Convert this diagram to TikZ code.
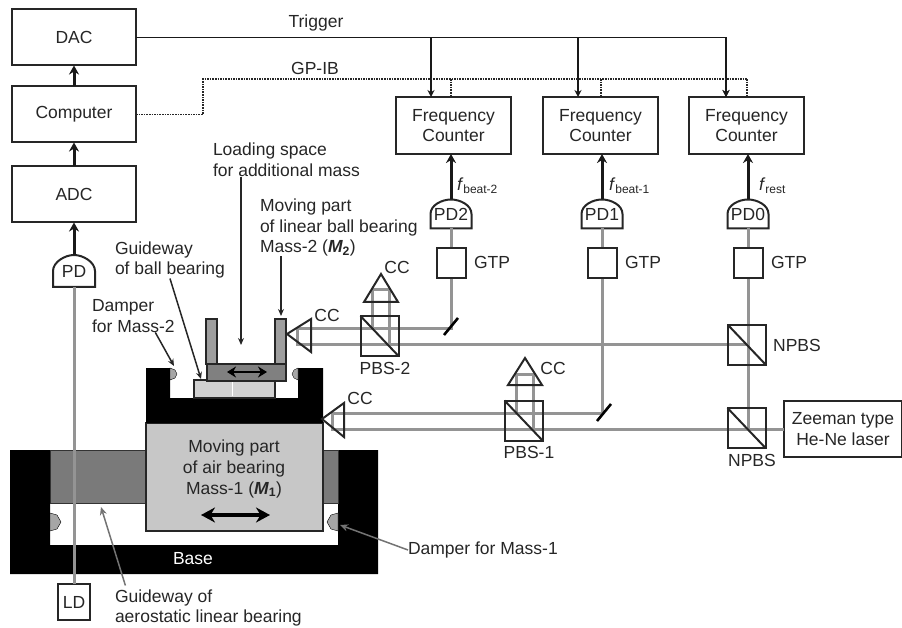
\documentclass[tikz,border=0pt]{standalone}
\usepackage{fontspec}
\setmainfont{Liberation Sans}
\usetikzlibrary{calc,arrows.meta}
\newcommand{\dome}[1]{\draw[box] (#1.south west) -- (#1.west) .. controls +(0,-9) and +(-9,0) .. (#1.north) .. controls +(9,0) and +(0,-9) .. (#1.east) -- (#1.south east) -- cycle;}
\begin{document}
\begin{tikzpicture}[x=1pt, y=-1pt,
	every node/.style={inner sep=0pt, outer sep=0pt, text=black!85, font=\fontsize{17.5}{20.7}\selectfont, align=center},
	box/.style={draw=black!85, line width=2pt},
	unit/.style={box, fill=white, minimum width=124pt, minimum height=56pt},
	counter/.style={box, fill=white, minimum width=115pt, minimum height=57pt},
	filter/.style={box, fill=white, minimum width=29pt, minimum height=30pt},
	cube/.style={box, minimum width=38pt, minimum height=40pt},
	detector/.style={minimum width=41pt, minimum height=29pt},
	tag/.style={align=left},
	beam/.style={draw=black!42, line width=3pt},
	signal/.style={draw=black!90, line width=1.7pt},
	bus/.style={draw=black!85, line width=1.6pt, densely dotted},
	feed/.style={-{Stealth[length=9pt,width=10pt]}, draw=black!90, line width=3pt},
	droptip/.style={-{Stealth[length=7pt,width=7pt]}},
	pointer/.style={-{Stealth[length=7pt,width=6pt]}, draw=black!85, line width=1.5pt},
	greypointer/.style={-{Stealth[length=8pt,width=7pt]}, draw=black!55, line width=1.5pt},
	damper/.style={fill=black!35}]

	\useasboundingbox (0,0) rectangle (902,628);

	\fill[black] (10,450) -- (50,450) -- (50,545) -- (338,545) -- (338,450) -- (378,450) -- (378,574) -- (10,574) -- cycle;
	\draw[fill=black!52, draw=black!80, line width=1pt] (50,450) rectangle (338,503);
	\draw[damper] (50,513) -- (57,515) -- (61,522) -- (57,529) -- (50,531) -- cycle;
	\draw[damper] (338,513) -- (331,515) -- (327,522) -- (331,529) -- (338,531) -- cycle;
	\draw[box, fill=black!22] (146,423) rectangle (323,531);
	\fill[black] (146,368) -- (170,368) -- (170,398) -- (298,398) -- (298,368) -- (323,368) -- (323,423) -- (146,423) -- cycle;
	\draw[damper] (170,368) -- (175,370) -- (177,374) -- (175,378) -- (170,380) -- cycle;
	\draw[damper] (298,368) -- (294,370) -- (292,374) -- (294,378) -- (298,380) -- cycle;
	\draw[box, fill=black!18] (194,380) rectangle (275,398);
	\draw[white, line width=0.6pt] (232,382) -- (232,396);
	\draw[box, fill=black!38] (206,319) rectangle (217,364);
	\draw[box, fill=black!38] (275,319) rectangle (286,364);
	\draw[box, fill=black!50] (207,364) rectangle (286,381);
	\draw[{Stealth[length=14pt,width=15pt]}-{Stealth[length=14pt,width=15pt]}, line width=3.5pt, black] (201,515) -- (270,515);
	\draw[{Stealth[length=9pt,width=11pt]}-{Stealth[length=9pt,width=11pt]}, line width=2.6pt, black] (227,372) -- (267,372);

	\node[unit] (dac) at (74,37.5) {DAC};
	\node[unit] (computer) at (74,114.5) {Computer};
	\node[unit] (adc) at (74,194.5) {ADC};
	\node[detector, minimum width=42pt, minimum height=32pt] (pd) at (74,271) {PD};
	\node[box, fill=white, minimum width=32pt, minimum height=36pt] (ld) at (74,602) {LD};
	\dome{pd}
	\draw[beam] (ld.north) -- (pd.south);
	\draw[feed] (computer.north) -- (dac.south);
	\draw[feed] (adc.north) -- (computer.south);
	\draw[feed] (pd.north) -- (adc.south);

	\node[box, fill=white, minimum width=118pt, minimum height=56pt] (laser) at (843,429) {Zeeman type\\He-Ne laser};
	\coordinate (splitlow) at (748,429);
	\coordinate (splitup) at (748,344);
	\coordinate (mirrorlow) at (602,413);
	\coordinate (mirrorup) at (451,328);
	\coordinate (turnlow) at (332,413);
	\coordinate (turnup) at (297,328);

	\foreach \id/\x/\bx/\tx/\gx in {2/453.5/451/431/451, 1/600.5/602/578/601, 0/746.5/748/726/747} {
		\node[counter] (fc\id) at (\x,125.5) {Frequency\\Counter};
		\node[detector] (pd\id) at (\bx,214) {PD\id};
		\dome{pd\id}
		\coordinate (trig\id) at (\tx,37.5);
		\coordinate (gpib\id) at (\gx,79);
		\draw[feed] (pd\id.north) -- (pd\id.north |- fc\id.south);
		\draw[droptip, signal] (trig\id) -- (trig\id |- fc\id.north);
		\draw[bus] (gpib\id) -- (gpib\id |- fc\id.north);
	}

	\draw[beam] (laser.west) -- (splitlow) -- (turnlow |- splitlow) -- (turnlow) -- (mirrorlow) -- (mirrorlow |- pd1.south);
	\draw[beam] (splitlow) -- (splitlow |- pd0.south);
	\draw[beam] (splitup) -- (turnup |- splitup) -- (turnup) -- (mirrorup) -- (mirrorup |- pd2.south);
	\draw[beam] (516,413) -- (516,374) -- (533,374) -- (533,429);
	\draw[beam] (372,328) -- (372,290) -- (389,290) -- (389,344);

	\foreach \id/\x in {2/451.5, 1/602.5, 0/748.5} {
		\node[filter] (gtp\id) at (\x,263) {};
		\node[anchor=west] (gtptag\id) at ($(gtp\id.east)+(8,-1)$) {GTP};
	}

	\node[cube] (pbstwo) at (379.5,336) {};
	\node[cube] (pbsone) at (523.5,420.5) {};
	\node[cube] (npbsup) at (747,345) {};
	\node[cube] (npbslow) at (746.5,428) {};
	\foreach \cb in {pbstwo, pbsone, npbsup, npbslow}
		\draw[box] (\cb.north west) -- (\cb.south east);

	\draw[box] (287,334) -- (311,319) -- (311,352) -- cycle;
	\draw[box] (322,419) -- (344,403) -- (344,437) -- cycle;
	\draw[box] (381,274) -- (364,302) -- (398,302) -- cycle;
	\draw[box] (525,358) -- (508,385) -- (542,385) -- cycle;
	\draw[black, line width=2.6pt] (444,335) -- (458,318);
	\draw[black, line width=2.6pt] (597,421) -- (611,404);

	\draw[signal] (dac.east) -- (trig0) -- (trig0 |- fc0.north);
	\draw[droptip, signal] (trig0) -- (trig0 |- fc0.north);
	\coordinate (busbend) at (203,79);
	\draw[bus] (computer.east) -- (busbend |- computer.east) -- (busbend) -- (gpib0);

	\node (trigger) at (316,23) {Trigger};
	\node (gpibtag) at (315,68) {GP-IB};
	\node[anchor=west] (fbeat2) at (457,186) {\textit{f}\raisebox{-3pt}{\fontsize{12}{14}\selectfont beat-2}};
	\node[anchor=west] (fbeat1) at (609,186) {\textit{f}\raisebox{-3pt}{\fontsize{12}{14}\selectfont beat-1}};
	\node[anchor=west] (frest) at (759,186) {\textit{f}\raisebox{-3pt}{\fontsize{12}{14}\selectfont rest}};

	\node[tag, anchor=west] (loadtag) at (213,160) {Loading space\\for additional mass};
	\node[tag, anchor=west] (movetag) at (260,227.5) {Moving part\\of linear ball bearing\\Mass-2 ({\bfseries\itshape M}\textsubscript{\bfseries 2})};
	\node[tag, anchor=west] (balltag) at (115,260) {Guideway\\of ball bearing};
	\node[tag, anchor=west] (dampertwo) at (92,316) {Damper\\for Mass-2};
	\node[tag, anchor=west] (aerotag) at (115,608) {Guideway of\\aerostatic linear bearing};
	\node[tag, anchor=west] (damperone) at (408,550) {Damper for Mass-1};
	\node (massone) at (234,469) {Moving part\\of air bearing\\Mass-1 ({\bfseries\itshape M}\textsubscript{\bfseries 1})};
	\node[text=white] (base) at (193,559) {Base};
	\node (pbstwotag) at (385,368) {PBS-2};
	\node (pbsonetag) at (529,452) {PBS-1};
	\node (npbsuptag) at (797,345) {NPBS};
	\node (npbslowtag) at (752,460) {NPBS};
	\node (ccone) at (327,315) {CC};
	\node (cctwo) at (397,267) {CC};
	\node (ccthree) at (360,398) {CC};
	\node (ccfour) at (553,368) {CC};

	\coordinate (loadtip) at (241,345);
	\coordinate (movetip) at (281,316);
	\coordinate (balltip) at (201,379);
	\coordinate (dampertip) at (174,366);
	\coordinate (aerotip) at (101,507);
	\coordinate (massdamper) at (340,525);
	\draw[pointer] (loadtag.south -| loadtip) -- (loadtip);
	\draw[pointer] (movetag.south -| movetip) -- (movetip);
	\draw[pointer] (balltag.south) -- (balltip);
	\draw[pointer] ([xshift=22pt]dampertwo.south) -- (dampertip);
	\draw[greypointer] ([xshift=-83pt,yshift=4pt]aerotag.north) -- (aerotip);
	\draw[greypointer] (damperone.west) -- (massdamper);
\end{tikzpicture}
\end{document}
